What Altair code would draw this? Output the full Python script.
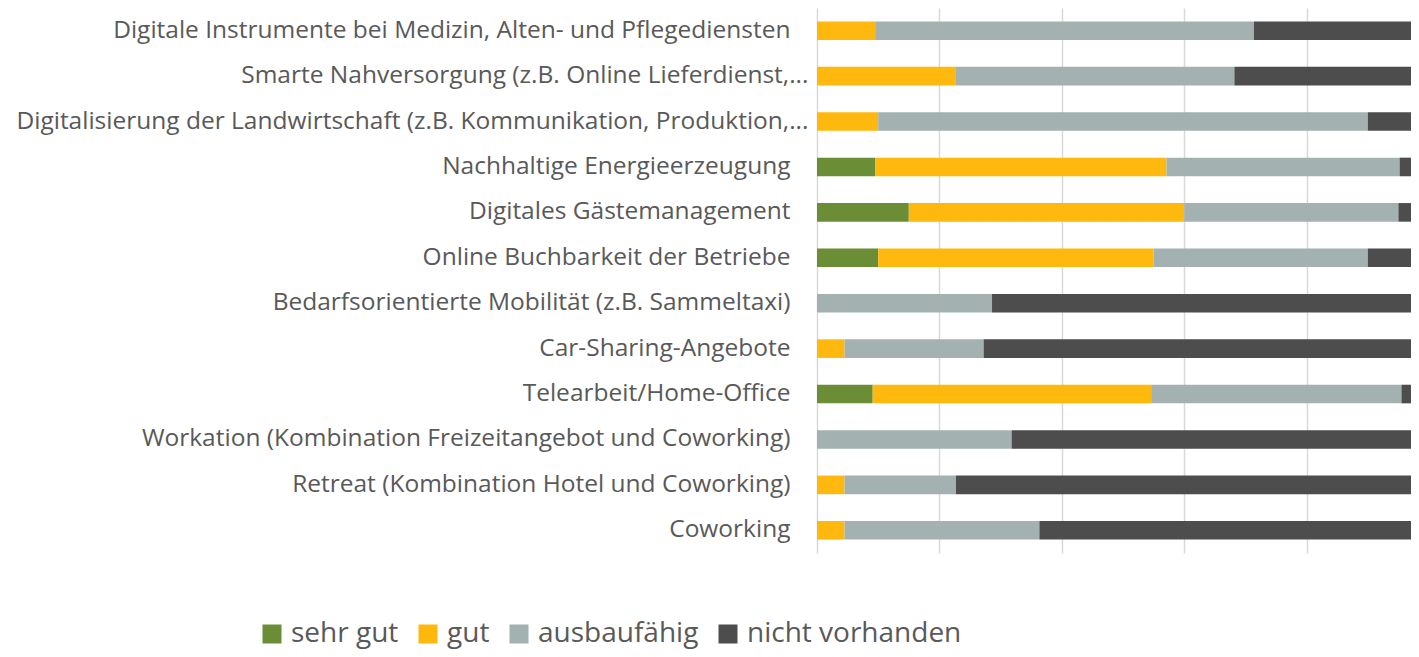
import altair as alt
import pandas as pd

categories = [
    "Digitale Instrumente bei Medizin, Alten- und Pflegediensten",
    "Smarte Nahversorgung (z.B. Online Lieferdienst,...",
    "Digitalisierung der Landwirtschaft (z.B. Kommunikation, Produktion,...",
    "Nachhaltige Energieerzeugung",
    "Digitales Gästemanagement",
    "Online Buchbarkeit der Betriebe",
    "Bedarfsorientierte Mobilität (z.B. Sammeltaxi)",
    "Car-Sharing-Angebote",
    "Telearbeit/Home-Office",
    "Workation (Kombination Freizeitangebot und Coworking)",
    "Retreat (Kombination Hotel und Coworking)",
    "Coworking",
]
series = ["sehr gut", "gut", "ausbaufähig", "nicht vorhanden"]
sehr_gut = [0, 0, 0, 9.5, 15, 10, 0, 0, 9.1, 0, 0, 0]
gut = [9.5, 22.7, 10, 47.6, 45, 45, 0, 4.5, 45.5, 0, 4.5, 4.5]
ausbaufaehig = [61.9, 45.5, 80, 38.1, 35, 35, 28.6, 22.7, 40.9, 31.8, 18.2, 31.8]
nicht_vorhanden = [28.6, 31.8, 10, 4.8, 5, 10, 71.4, 72.7, 4.5, 68.2, 77.3, 63.6]
colors = ["#6A8D35", "#FFB80D", "#A3B2B1", "#4D4D4D"]

rows = []
for s_i, (name, vals) in enumerate(zip(series, [sehr_gut, gut, ausbaufaehig, nicht_vorhanden])):
    for cat, v in zip(categories, vals):
        if v > 0:
            rows.append({"Kategorie": cat, "Bewertung": name, "Anteil": v, "ord": s_i})
df = pd.DataFrame(rows)

FONT = "Open Sans"
TXT = "#595959"

chart = (
    alt.Chart(df)
    .mark_bar(clip=True)
    .encode(
        y=alt.Y(
            "Kategorie:N",
            sort=categories,
            title=None,
            scale=alt.Scale(paddingInner=0.59, paddingOuter=0.295),
            axis=alt.Axis(
                ticks=False,
                domain=False,
                grid=False,
                labelFont=FONT,
                labelFontSize=24.5,
                labelColor=TXT,
                labelPadding={
                    "condition": {"test": "indexof(datum.label, '...') >= 0", "value": 9},
                    "value": 27,
                },
                labelLimit=1000,
            ),
        ),
        x=alt.X(
            "Anteil:Q",
            stack="normalize",
            title=None,
            scale=alt.Scale(domain=[0, 0.9706], nice=False, zero=True),
            axis=alt.Axis(
                values=[0, 0.2, 0.4, 0.6, 0.8],
                labels=False,
                ticks=False,
                domain=False,
                grid=True,
                gridColor="#D9D9D9",
                gridWidth=1.5,
            ),
        ),
        color=alt.Color(
            "Bewertung:N",
            sort=series,
            scale=alt.Scale(domain=series, range=colors),
            legend=alt.Legend(
                title=None,
                orient="none",
                legendX=-559,
                legendY=612,
                direction="horizontal",
                columns=4,
                symbolType="square",
                symbolSize=361,
                symbolStrokeWidth=0,
                labelFont=FONT,
                labelFontSize=28,
                labelColor=TXT,
                labelOffset=5,
                labelLimit=0,
                columnPadding=15,
                padding=0,
            ),
        ),
        order=alt.Order("ord:Q", sort="ascending"),
    )
    .properties(
        width=594,
        height=545,
        autosize=alt.AutoSizeParams(type="none"),
        padding={"left": 809, "top": 0, "right": 0, "bottom": 96},
    )
    .configure_view(stroke=None)
)

chart.save("out.html", embed_options={"renderer": "svg", "actions": False})
